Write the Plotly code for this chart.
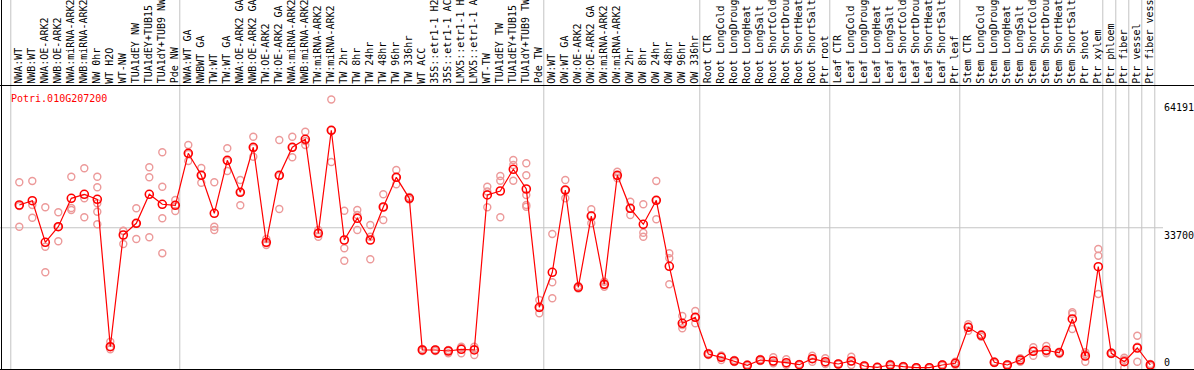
import plotly.graph_objects as go

gene = "Potri.010G207200"

samples = [
    "NWA:WT", "NWB:WT", "NWA:OE-ARK2", "NWB:OE-ARK2", "NWA:miRNA-ARK2", "NWB:miRNA-ARK2",
    "NW 0hr", "WT H2O", "WT-NW", "TUA1dEY NW", "TUA1dEY+TUB15 NW", "TUA1dY+TUB9 NW", "Pde NW",
    "NWA:WT GA", "NWBWT GA", "TW:WT", "TW:WT GA", "NWA:OE-ARK2 GA", "NWB:OE-ARK2 GA",
    "TW:OE-ARK2", "TW:OE-ARK2 GA", "NWA:miRNA-ARK2 GA", "NWB:miRNA-ARK2 GA", "TW:miRNA-ARK2",
    "TW:miRNA-ARK2 GA", "TW 2hr", "TW 8hr", "TW 24hr", "TW 48hr", "TW 96hr", "TW 336hr", "WT ACC",
    "35S::etr1-1 H2O", "35S::etr1-1 ACC", "LMX5::etr1-1 H2O", "LMX5::etr1-1 ACC", "WT-TW",
    "TUA1dEY TW", "TUA1dEY+TUB15 TW", "TUA1dY+TUB9 TW", "Pde TW",
    "OW:WT", "OW:WT GA", "OW:OE-ARK2", "OW:OE-ARK2 GA", "OW:miRNA-ARK2", "OW:miRNA-ARK2 GA",
    "OW 2hr", "OW 8hr", "OW 24hr", "OW 48hr", "OW 96hr", "OW 336hr",
    "Root CTR", "Root LongCold", "Root LongDrought", "Root LongHeat", "Root LongSalt",
    "Root ShortCold", "Root ShortDrought", "Root ShortHeat", "Root ShortSalt", "Ptr root",
    "Leaf CTR", "Leaf LongCold", "Leaf LongDrought", "Leaf LongHeat", "Leaf LongSalt",
    "Leaf ShortCold", "Leaf ShortDrought", "Leaf ShortHeat", "Leaf ShortSalt", "Ptr leaf",
    "Stem CTR", "Stem LongCold", "Stem LongDrought", "Stem LongHeat", "Stem LongSalt",
    "Stem ShortCold", "Stem ShortDrought", "Stem ShortHeat", "Stem ShortSalt", "Ptr shoot", "Ptr xylem",
    "Ptr phloem", "Ptr fiber", "Ptr vessel", "Ptr fiber vessel",
]

group_sizes = [13, 28, 12, 10, 10, 11, 1, 1, 1, 1]

mean_expr = [
    39110, 40130, 30240, 33950, 40700, 41650, 40460, 5420, 31980, 34760, 41650, 39280, 39040,
    51400, 46170, 37140, 49740, 42130, 52830, 30240, 46170, 52830, 54730, 32380, 56870, 30790,
    35950, 30790, 38630, 45690, 40700, 4640, 4640, 4400, 4800, 4640, 41490, 42440, 47600, 42910, 14790,
    23110, 42670, 19540, 36490, 20260, 46170, 38320, 34520, 40230, 24540, 10980, 12410,
    3690, 2900, 2020, 1000, 2260, 2020, 1620, 1140, 2570, 1850,
    1310, 2020, 830, 520, 1070, 670, 430, 430, 1070, 1470,
    10030, 8130, 1710, 1070, 2260, 4330, 4570, 3990, 12010, 3210, 24440,
    3850, 1850, 5110, 1070,
]

replicates = [
    [44510, 38870, 33950], [44810, 39110, 36090], [38560, 29190, 23110], [37370, 33950, 30480],
    [45840, 38400, 37920], [47830, 40700, 36180], [45840, 43320, 39510, 37520, 34520],
    [6610, 5420, 4800], [33000, 32930, 29840], [38320, 34760, 31030], [48070, 45690, 31430],
    [51640, 43460, 35950, 27630], [40300, 39110, 37680],
    [53370, 51230, 49570], [47910, 46170, 44410], [44510, 33950, 33170], [52590, 49570, 47190],
    [45050, 42200, 39040], [55350, 52660, 50590], [31030, 30070, 29600], [54560, 46000, 38160],
    [55350, 52830, 50450], [56540, 54320, 53370], [33170, 32450, 31570], [64191, 56870, 49330],
    [37750, 28810, 25870], [37920, 36730, 33170], [34350, 31570, 26200], [41650, 38630, 35540],
    [47430, 45690, 44030], [41010, 40700, 40420], [4870, 4640, 4400], [4760, 4640, 4400],
    [4640, 4400, 3850], [5420, 5110, 3850], [5420, 4870, 3450], [43460, 42320, 38560],
    [46000, 44890, 36180], [49810, 48620, 44890], [49020, 46170, 41490, 39110, 38700],
    [16520, 14620, 13360],
    [32210, 20730, 16930], [45050, 42670, 40700], [19850, 19540, 19260], [38090, 36610, 34760],
    [20870, 20210, 19690], [47030, 46000, 45460], [39890, 38320, 36730], [39280, 32520, 31570],
    [44810, 40230, 35710], [27630, 26440, 20260], [12720, 10580, 9800], [13910, 12360, 10980],
    [3920, 3690, 3450], [3330, 3040, 2260], [2260, 2020, 1780], [1190, 1000, 830],
    [2500, 2260, 2020], [2900, 1690, 1470], [2430, 1380, 1070], [1310, 1140, 1000],
    [3280, 2570, 1850], [2660, 1590, 1310],
    [1430, 1310, 1190], [3040, 1950, 1070], [950, 830, 710], [590, 520, 450],
    [1310, 1070, 830], [830, 670, 520], [550, 430, 310], [550, 430, 310],
    [1240, 1070, 900], [1850, 1470, 1070],
    [10750, 10100, 9220], [8370, 8200, 7800], [1900, 1710, 1520], [1240, 1070, 900],
    [2660, 2260, 1850], [5280, 4400, 3280], [5590, 4280, 3850], [4230, 4040, 3690],
    [13600, 13200, 9630], [4090, 3690, 1850], [28650, 27060, 17950],
    [4040, 3850, 3690], [2810, 2330, 430], [8040, 5440, 1850], [1310, 1070, 830],
]

max_label = 64191
mid_label = 33700

# ---------------------------------------------------------------- layout geometry
W, H = 1194, 370
TOP = 85            # plot area top (px)
PLOT_H = H - TOP    # plot area height
COL = 13.0          # px per sample column
X0 = 19.3           # px of first sample
Y_ZERO_PX = 369.5
Y_MAX_PX = 99.5
k = (Y_ZERO_PX - Y_MAX_PX) / max_label
y_lo = -(H - Y_ZERO_PX) / k
y_hi = max_label + (Y_MAX_PX - TOP) / k
x_lo = -X0 / COL
x_hi = (W - X0) / COL


def py(p):
    return (H - p) / PLOT_H


def px(p):
    return p / W


MONO = "DejaVu Sans Mono"
x_idx = list(range(len(samples)))

fig = go.Figure()

rx, ry = [], []
for i, reps in enumerate(replicates):
    for v in reps:
        rx.append(i)
        ry.append(v)

fig.add_trace(go.Scatter(
    x=rx, y=ry, mode="markers",
    marker=dict(symbol="circle-open", size=7, color="#ec9a9a", line=dict(width=1.4)),
    hoverinfo="skip", showlegend=False,
))
fig.add_trace(go.Scatter(
    x=x_idx, y=mean_expr, mode="lines+markers",
    line=dict(color="#ff0000", width=1.2),
    marker=dict(symbol="circle-open", size=8, color="#ff0000", line=dict(width=1.6)),
    showlegend=False,
))

shapes = []
# group boundaries (full height)
b = 0
bounds = [0]
for g in group_sizes:
    b += g
    bounds.append(b)
for bd in bounds:
    shapes.append(dict(type="line", xref="x", yref="paper", x0=bd - 0.655, x1=bd - 0.655,
                       y0=py(369), y1=py(0), line=dict(color="#c4c4c4", width=1), layer="below"))
# mid gridline
shapes.append(dict(type="line", xref="paper", yref="y", x0=0, x1=px(1163), y0=mid_label, y1=mid_label,
                   line=dict(color="#c4c4c4", width=1), layer="below"))
# frame lines
shapes.append(dict(type="line", xref="paper", yref="paper", x0=0, x1=1, y0=py(85.5), y1=py(85.5),
                   line=dict(color="#000000", width=1)))
shapes.append(dict(type="line", xref="paper", yref="paper", x0=0, x1=1, y0=py(369.5), y1=py(369.5),
                   line=dict(color="#000000", width=1)))
shapes.append(dict(type="line", xref="paper", yref="paper", x0=px(1.5), x1=px(1.5), y0=py(370), y1=py(0),
                   line=dict(color="#000000", width=1)))

annotations = [
    dict(text=gene, xref="paper", yref="paper", x=px(9), y=py(91), xanchor="left", yanchor="top",
         showarrow=False, font=dict(family=MONO, size=10, color="#ff0000")),
    dict(text=str(max_label), xref="paper", yref="y", x=px(1162), y=max_label, xanchor="left",
         yanchor="top", showarrow=False, font=dict(family=MONO, size=10, color="#000000")),
    dict(text=str(mid_label), xref="paper", yref="y", x=px(1162), y=mid_label, xanchor="left",
         yanchor="top", showarrow=False, font=dict(family=MONO, size=10, color="#000000")),
    dict(text="0", xref="paper", yref="y", x=px(1162), y=0, xanchor="left",
         yanchor="bottom", showarrow=False, font=dict(family=MONO, size=10, color="#000000")),
]
# rotated sample labels above the plot
for i, s in enumerate(samples):
    annotations.append(dict(text=s, xref="x", yref="paper", x=i - 0.08, y=py(84.5),
                            xanchor="center", yanchor="bottom", textangle=-90, showarrow=False,
                            borderpad=0, font=dict(family=MONO, size=10, color="#000000")))

fig.update_layout(
    template="none",
    width=W, height=H,
    margin=dict(l=0, r=0, t=TOP, b=0, pad=0),
    paper_bgcolor="white", plot_bgcolor="white",
    shapes=shapes, annotations=annotations,
    xaxis=dict(range=[x_lo, x_hi], showticklabels=False, ticks="", showgrid=False, zeroline=False,
               showline=False, automargin=False),
    yaxis=dict(range=[y_lo, y_hi], showgrid=False, zeroline=False, showline=False,
               showticklabels=False, ticks="", automargin=False),
    hovermode=False,
)

fig.write_html("out.html", config={"displayModeBar": False, "staticPlot": True},
               post_script="document.body.style.margin='0px';document.body.style.overflow='hidden';")
